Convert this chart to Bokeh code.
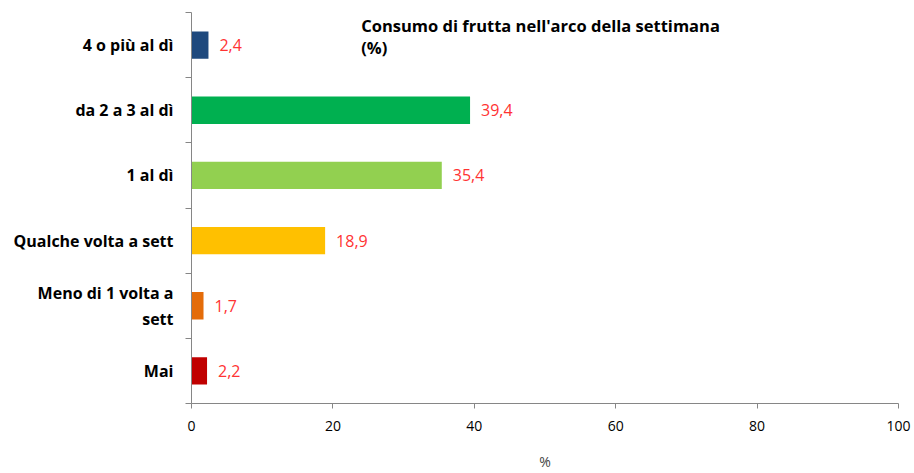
from bokeh.plotting import figure
from bokeh.models import Range1d, FixedTicker, ColumnDataSource, Label, LabelSet
from bokeh.core.properties import value
from bokeh.embed import file_html
from bokeh.resources import INLINE

categories = ["4 o più al dì", "da 2 a 3 al dì", "1 al dì", "Qualche volta a sett",
              "Meno di 1 volta a\nsett", "Mai"]
values = [2.4, 39.4, 35.4, 18.9, 1.7, 2.2]
colors = ["#1F497D", "#00B050", "#92D050", "#FFC000", "#E46C0A", "#C00000"]
x_ticks = [0, 20, 40, 60, 80, 100]
title_text = "Consumo di frutta  nell'arco della settimana\n(%)"
x_label = "%"

n = len(categories)
ypos = [n - 0.5 - i for i in range(n)]
labels = [f"{v:.1f}".replace(".", ",") for v in values]

src = ColumnDataSource(dict(y=ypos, v=values, c=colors, lab=labels))

FONT = "Open Sans"
AX = "#868686"

p = figure(width=914, height=473, output_backend="svg", toolbar_location=None,
           x_range=Range1d(0, 100), y_range=Range1d(0, n),
           min_border_left=191, min_border_right=16, min_border_top=12, min_border_bottom=68)
p.outline_line_color = None
p.xgrid.grid_line_color = None
p.ygrid.grid_line_color = None

p.hbar(y="y", right="v", left=0, height=0.42, fill_color="c", line_color=None, source=src)

p.add_layout(LabelSet(x="v", y="y", text="lab", source=src, x_offset=11,
                      text_align="left", text_baseline="middle",
                      text_color="#FF3333", text_font=value(FONT), text_font_size="16px"))

# x axis
xa = p.xaxis[0]
xa.ticker = FixedTicker(ticks=x_ticks)
xa.axis_line_color = AX
xa.major_tick_line_color = AX
xa.major_tick_out = 5
xa.major_tick_in = 0
xa.minor_tick_line_color = None
xa.major_label_text_font = FONT
xa.major_label_text_font_size = "14px"
xa.major_label_text_color = "#000000"
xa.major_label_standoff = 12
xa.axis_label = x_label
xa.axis_label_text_font = FONT
xa.axis_label_text_font_style = "normal"
xa.axis_label_text_font_size = "14px"
xa.axis_label_standoff = 18

# y axis
ya = p.yaxis[0]
ya.ticker = FixedTicker(ticks=ypos, minor_ticks=list(range(n + 1)))
ya.major_label_overrides = {y: c for y, c in zip(ypos, categories)}
ya.axis_line_color = AX
ya.major_tick_line_color = None
ya.minor_tick_line_color = AX
ya.minor_tick_out = 6
ya.minor_tick_in = 0
ya.major_label_text_font = FONT
ya.major_label_text_font_style = "bold"
ya.major_label_text_font_size = "16px"
ya.major_label_text_color = "#000000"
ya.major_label_standoff = 12

p.add_layout(Label(x=24, y=n - 0.02, text=title_text, text_font=FONT,
                   text_font_style="bold", text_font_size="16.5px", text_line_height=0.95,
                   text_baseline="top", text_align="left", text_color="#000000"))

open("out.html", "w").write(file_html(p, INLINE))
